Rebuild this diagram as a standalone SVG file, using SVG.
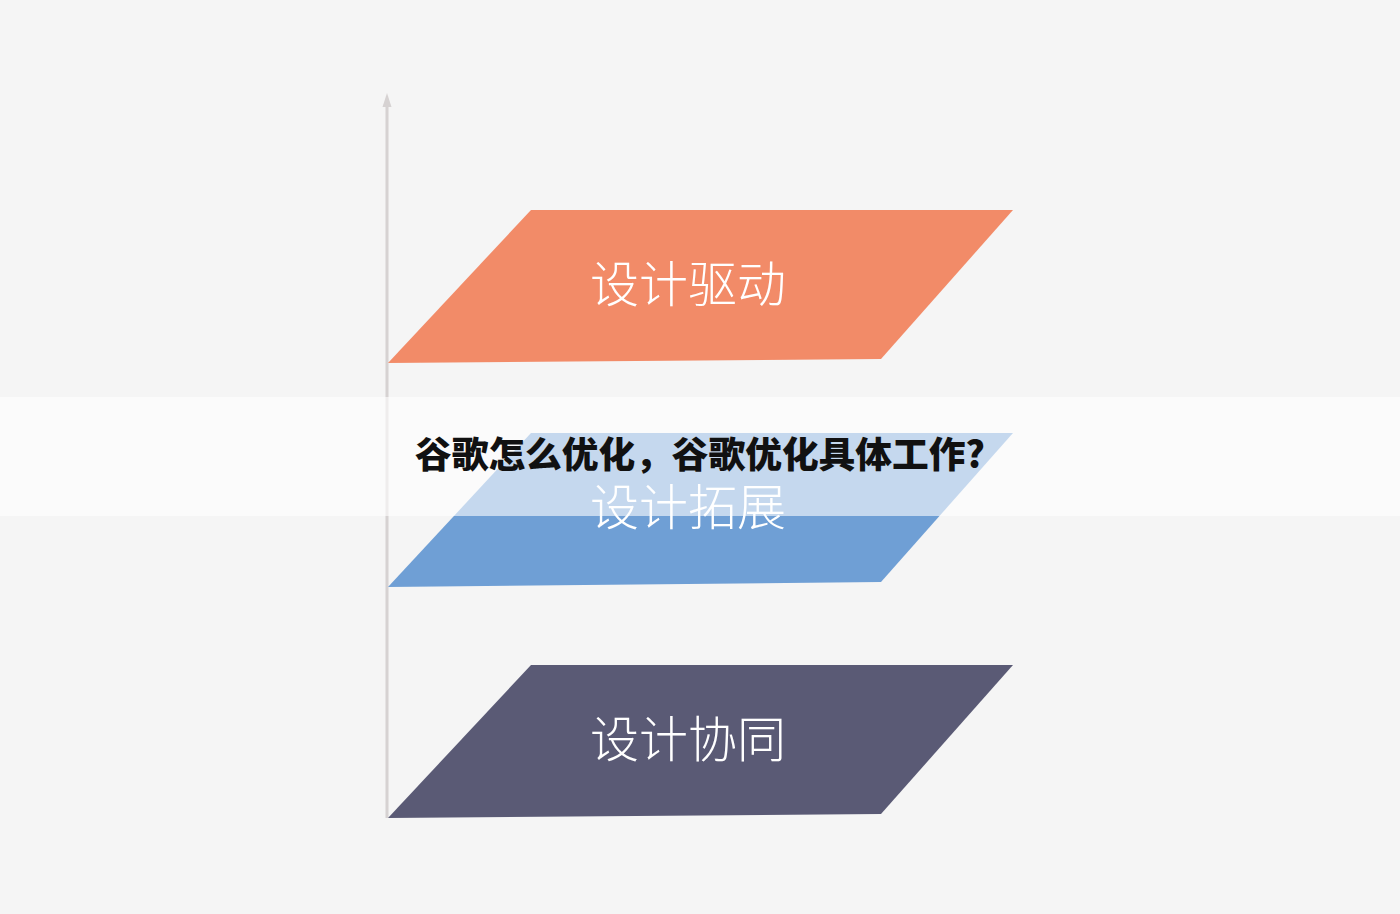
<svg xmlns="http://www.w3.org/2000/svg" width="1400" height="914" viewBox="0 0 1400 914">
<defs>
<style>
.lbl{font-family:"Noto Sans CJK SC","Noto Sans",sans-serif;font-weight:300;font-size:49px;fill:#ffffff;text-anchor:middle}
.title{font-family:"Noto Sans CJK SC","Noto Sans",sans-serif;font-weight:900;font-size:36px;fill:#111111;text-anchor:middle}
</style>
</defs>
<rect width="1400" height="914" fill="#f5f5f5"/>
<g id="connectors">
<line x1="387" y1="818" x2="387" y2="104" stroke="#d6d2d2" stroke-width="3"/>
<polygon points="382.5,107 387,93 391.5,107" fill="#d6d2d2"/>
</g>
<g id="node-drive">
<polygon points="531,210 1013,210 881,359 388,363" fill="#f28b68"/>
<text class="lbl" x="688" y="302">设计驱动</text>
</g>
<g id="node-expand">
<polygon points="531,433 1013,433 881,582 388,587" fill="#6f9fd5"/>
<text class="lbl" x="688" y="525">设计拓展</text>
</g>
<g id="node-collab">
<polygon points="531,665 1013,665 881,814 388,818" fill="#5a5a75"/>
<text class="lbl" x="688" y="757">设计协同</text>
</g>
<g id="banner">
<rect x="0" y="397" width="1400" height="119" fill="#ffffff" fill-opacity="0.6"/>
<text class="title" x="700" y="468" textLength="570" lengthAdjust="spacingAndGlyphs">谷歌怎么优化，谷歌优化具体工作?</text>
</g>
</svg>
